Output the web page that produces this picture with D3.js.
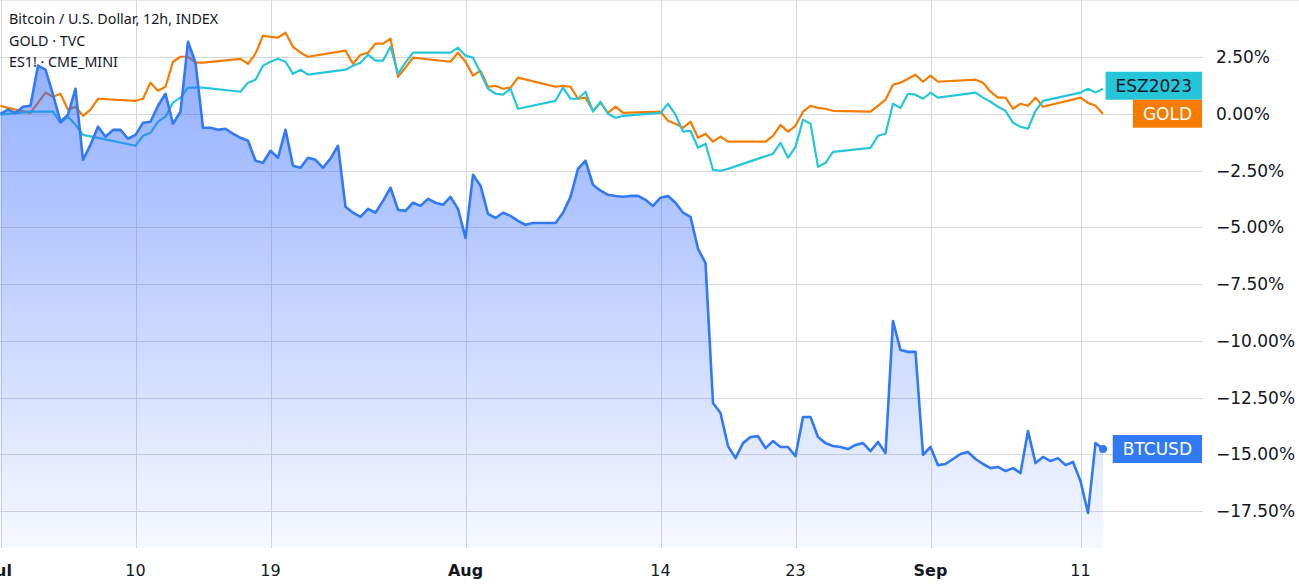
<!DOCTYPE html>
<html>
<head>
<meta charset="utf-8">
<script src="https://cdn.jsdelivr.net/npm/d3@7"></script>
<style>
  html, body { margin: 0; padding: 0; background: #fff; }
  svg { display: block; }
</style>
</head>
<body>
<div id="chart"></div>
<script>
// 12h bars starting Jul 1 2023, values are % change vs first bar
const barStart = new Date(2023, 6, 1, 0, 0);
const barHours = 12;

const btcPct = [
  0.00, 0.18, 0.04, 0.31, 0.35, 2.12, 1.94, 0.84, -0.35, -0.04,
  1.10, -2.03, -1.37, -0.57, -1.01, -0.71, -0.71, -1.10, -0.93, -0.40,
  -0.35, 0.35, 0.88, -0.44, 0.09, 3.17, 2.25, -0.62, -0.62, -0.71,
  -0.66, -0.88, -1.06, -1.19, -2.07, -2.16, -1.63, -1.94, -0.71, -2.29,
  -2.38, -1.94, -2.03, -2.38, -1.98, -1.41, -4.10, -4.36, -4.54, -4.19,
  -4.36, -3.84, -3.26, -4.23, -4.28, -3.92, -4.06, -3.75, -3.92, -4.01,
  -3.66, -4.19, -5.47, -2.69, -3.17, -4.41, -4.59, -4.36, -4.50, -4.72,
  -4.89, -4.81, -4.81, -4.81, -4.81, -4.36, -3.66, -2.43, -2.07, -3.13,
  -3.39, -3.57, -3.62, -3.66, -3.62, -3.62, -3.79, -4.06, -3.70, -3.62,
  -3.92, -4.36, -4.54, -5.95, -6.57, -12.74, -13.18, -14.64, -15.17, -14.51,
  -14.24, -14.20, -14.73, -14.42, -14.68, -14.68, -15.08, -13.36, -13.36, -14.24,
  -14.51, -14.64, -14.68, -14.77, -14.59, -14.51, -14.86, -14.46, -14.95, -9.13,
  -10.41, -10.49, -10.49, -15.03, -14.68, -15.48, -15.43, -15.21, -14.99, -14.90,
  -15.21, -15.43, -15.61, -15.56, -15.74, -15.61, -15.83, -13.98, -15.39, -15.12,
  -15.30, -15.17, -15.48, -15.34, -16.18, -17.59, -14.51, -14.77
];

// gold & es1 only trade on weekdays -> bar indices with a value
const goldBar = [
  0, 1, 2, 4, 6, 7, 8, 9, 10, 11, 12, 13,
  18, 19, 20, 21, 22, 23, 24, 25, 26, 27,
  32, 33, 34, 35, 36, 37, 38, 39, 40, 41,
  46, 47, 48, 49, 50, 51, 52, 53, 54, 55,
  60, 61, 62, 63, 64, 65, 66, 67, 68, 69,
  74, 75, 76, 77, 78, 79, 80, 81, 82, 83,
  88, 89, 90, 91, 92, 93, 94, 95, 96, 97,
  102, 103, 104, 105, 106, 107, 108, 109, 110, 111,
  116, 117, 118, 119, 120, 121, 122, 123, 124, 125,
  130, 131, 132, 133, 134, 135, 136, 137, 138, 139,
  144, 145, 146, 147
];
const goldPct = [
  0.35, 0.26, 0.18, 0.04, 0.93, 0.75, 0.88, 0.18, 0.31, -0.09, 0.18, 0.66,
  0.57, 0.66, 1.37, 1.01, 1.19, 2.29, 2.51, 2.51, 2.25, 2.25,
  2.42, 2.20, 2.65, 3.44, 3.39, 3.35, 3.57, 2.95, 2.69, 2.51,
  2.78, 2.20, 2.60, 2.69, 3.09, 3.09, 3.31, 1.63, 2.03, 2.47,
  2.29, 2.69, 2.29, 1.68, 1.90, 1.19, 1.23, 1.10, 1.15, 1.59,
  1.19, 1.23, 1.19, 0.66, 0.71, 0.13, 0.48, 0.04, 0.31, 0.04,
  0.09, -0.31, -0.44, -0.62, -0.35, -1.06, -0.88, -1.23, -1.01, -1.23,
  -1.23, -0.97, -0.49, -0.79, -0.53, 0.09, 0.35, 0.26, 0.22, 0.13,
  0.09, 0.35, 0.62, 1.28, 1.37, 1.54, 1.72, 1.41, 1.68, 1.41,
  1.50, 1.37, 0.97, 0.71, 0.71, 0.22, 0.44, 0.35, 0.71, 0.31,
  0.71, 0.48, 0.35, 0.00
];

const esBar = [
  0, 4, 7, 8, 9, 10, 11, 13,
  18, 19, 20, 21, 22, 23, 24, 25, 27,
  32, 33, 34, 35, 36, 37, 38, 39, 40, 41,
  46, 47, 48, 49, 50, 51, 52, 53, 54, 55,
  60, 61, 62, 63, 64, 65, 66, 67, 68, 69,
  74, 75, 76, 77, 78, 79, 80, 81, 82, 83,
  88, 89, 90, 91, 92, 93, 94, 95, 96, 97,
  103, 104, 105, 106, 107, 108, 109, 110, 111,
  116, 117, 118, 119, 120, 121, 122, 123, 124, 125,
  130, 131, 132, 133, 134, 135, 136, 137, 138, 139,
  144, 145, 146, 147
];
const esPct = [
  -0.04, 0.09, 0.09, -0.40, -0.13, -0.49, -0.93, -1.06,
  -1.41, -0.97, -0.84, -0.35, -0.13, 0.49, 0.71, 1.15, 1.15,
  0.97, 1.37, 1.50, 2.12, 2.29, 2.42, 2.29, 1.76, 1.94, 1.72,
  1.94, 2.12, 2.25, 2.60, 2.34, 2.34, 2.95, 1.76, 2.25, 2.69,
  2.69, 2.91, 2.56, 2.47, 1.81, 1.10, 0.88, 0.84, 1.10, 0.22,
  0.57, 1.15, 0.66, 0.66, 0.97, 0.09, 0.53, 0.00, -0.18, -0.09,
  0.04, 0.44, -0.04, -0.79, -0.75, -1.50, -1.32, -2.47, -2.51, -2.43,
  -1.76, -1.28, -1.94, -1.46, -0.26, -0.44, -2.34, -2.16, -1.68,
  -1.50, -0.97, -0.88, 0.44, 0.26, 0.88, 0.84, 0.66, 0.93, 0.71,
  0.93, 0.71, 0.53, 0.31, 0.13, -0.40, -0.57, -0.66, 0.13, 0.57,
  0.93, 1.10, 0.93, 1.10
];

const xTickDates = ["2023-07-01", "2023-07-10", "2023-07-19", "2023-08-01",
                    "2023-08-14", "2023-08-23", "2023-09-01", "2023-09-11"];
const yTicks = [2.5, 0, -2.5, -5, -7.5, -10, -12.5, -15, -17.5];
const legendLines = ["Bitcoin / U.S. Dollar, 12h, INDEX", "GOLD · TVC", "ES1! · CME_MINI"];

const W = 1299, H = 586;
const plotRight = 1203, plotBottom = 548;
const axisFont = "'DejaVu Sans', sans-serif";
const textColor = "#131722";
const gridColor = "#d6d8de";

const btcColor = "#3179f5", goldColor = "#f57c00", esColor = "#26c6da";

const barTime = i => d3.timeHour.offset(barStart, barHours * i);
const parseDay = d3.timeParse("%Y-%m-%d");

const x = d3.scaleTime()
    .domain([new Date(2023, 6, 1), new Date(2023, 8, 11)])
    .range([0.5, 1080.5]);

const y = d3.scaleLinear()
    .domain([2.5, -17.5])
    .range([57, 511]);

const svg = d3.select("#chart")
    .append("svg")
    .attr("width", W)
    .attr("height", H);

// top separator
svg.append("line")
    .attr("x1", 0).attr("x2", W)
    .attr("y1", 0.5).attr("y2", 0.5)
    .attr("stroke", "#e6e8ee");

// grid
svg.append("g")
    .selectAll("line")
    .data(yTicks)
    .join("line")
    .attr("x1", 0).attr("x2", plotRight)
    .attr("y1", d => Math.round(y(d)) + 0.5)
    .attr("y2", d => Math.round(y(d)) + 0.5)
    .attr("stroke", gridColor);

svg.append("g")
    .selectAll("line")
    .data(xTickDates.map(parseDay))
    .join("line")
    .attr("x1", d => Math.round(x(d)) + 0.5)
    .attr("x2", d => Math.round(x(d)) + 0.5)
    .attr("y1", 0).attr("y2", plotBottom)
    .attr("stroke", gridColor);

// comparison lines
const line = d3.line()
    .x(d => x(barTime(d[0])))
    .y(d => y(d[1]));

svg.append("path")
    .datum(goldBar.map((b, i) => [b, goldPct[i]]))
    .attr("fill", "none")
    .attr("stroke", goldColor)
    .attr("stroke-width", 2.2)
    .attr("stroke-linejoin", "round")
    .attr("d", line);

svg.append("path")
    .datum(esBar.map((b, i) => [b, esPct[i]]))
    .attr("fill", "none")
    .attr("stroke", esColor)
    .attr("stroke-width", 2.2)
    .attr("stroke-linejoin", "round")
    .attr("d", line);

// btc area + line
const btcData = btcPct.map((v, i) => [i, v]);

const grad = svg.append("defs")
    .append("linearGradient")
    .attr("id", "btcFill")
    .attr("gradientUnits", "userSpaceOnUse")
    .attr("x1", 0).attr("x2", 0)
    .attr("y1", y(d3.max(btcPct))).attr("y2", plotBottom);
grad.append("stop").attr("offset", 0).attr("stop-color", "rgba(41,98,255,0.52)");
grad.append("stop").attr("offset", 1).attr("stop-color", "rgba(41,98,255,0.04)");

svg.append("path")
    .datum(btcData)
    .attr("fill", "url(#btcFill)")
    .attr("d", d3.area()
        .x(d => x(barTime(d[0])))
        .y0(plotBottom)
        .y1(d => y(d[1])));

svg.append("path")
    .datum(btcData)
    .attr("fill", "none")
    .attr("stroke", btcColor)
    .attr("stroke-width", 2.6)
    .attr("stroke-linejoin", "round")
    .attr("d", line);

const lastBtc = btcData[btcData.length - 1];
svg.append("circle")
    .attr("cx", x(barTime(lastBtc[0])))
    .attr("cy", y(lastBtc[1]))
    .attr("r", 4)
    .attr("fill", btcColor);

// y axis labels
const fmt = d => d3.format(".2f")(d).replace("-", "\u2212") + "%";
svg.append("g")
    .selectAll("text")
    .data(yTicks)
    .join("text")
    .attr("x", 1216)
    .attr("y", d => y(d))
    .attr("dy", "0.36em")
    .style("font-family", axisFont)
    .style("font-size", "17px")
    .style("fill", textColor)
    .text(fmt);

// x axis labels
svg.append("g")
    .selectAll("text")
    .data(xTickDates.map(parseDay))
    .join("text")
    .attr("x", d => x(d))
    .attr("y", 570)
    .attr("dy", "0.36em")
    .attr("text-anchor", "middle")
    .style("font-family", axisFont)
    .style("font-size", "16px")
    .style("font-weight", d => d.getDate() === 1 ? "bold" : "normal")
    .style("fill", textColor)
    .text(d => d.getDate() === 1 ? d3.timeFormat("%b")(d) : d.getDate());

// legend top-left
svg.append("g")
    .selectAll("text")
    .data(legendLines)
    .join("text")
    .attr("x", 9)
    .attr("y", (d, i) => 24 + i * 21.5)
    .style("font-family", "'Noto Sans', sans-serif")
    .style("font-size", "14.3px")
    .style("fill", textColor)
    .text(d => d);

// last value labels (right aligned at pane edge), es pushed above gold
const goldY = y(goldPct[goldPct.length - 1]);
const esY = Math.min(y(esPct[esPct.length - 1]), goldY - 28);
const tags = [
  { name: "ESZ2023", cy: esY, bg: esColor, fg: textColor },
  { name: "GOLD", cy: goldY, bg: goldColor, fg: "#ffffff" },
  { name: "BTCUSD", cy: y(lastBtc[1]), bg: btcColor, fg: "#ffffff" }
];

tags.forEach(t => {
  const g = svg.append("g");
  const rect = g.append("rect")
      .attr("y", t.cy - 14)
      .attr("height", 28)
      .attr("fill", t.bg);
  const txt = g.append("text")
      .attr("y", t.cy)
      .attr("dy", "0.36em")
      .attr("text-anchor", "end")
      .attr("x", 1202 - 10)
      .style("font-family", axisFont)
      .style("font-size", "17px")
      .style("fill", t.fg)
      .text(t.name);
  const w = txt.node().getComputedTextLength() + 20;
  rect.attr("x", 1202 - w).attr("width", w);
});
</script>
</body>
</html>
